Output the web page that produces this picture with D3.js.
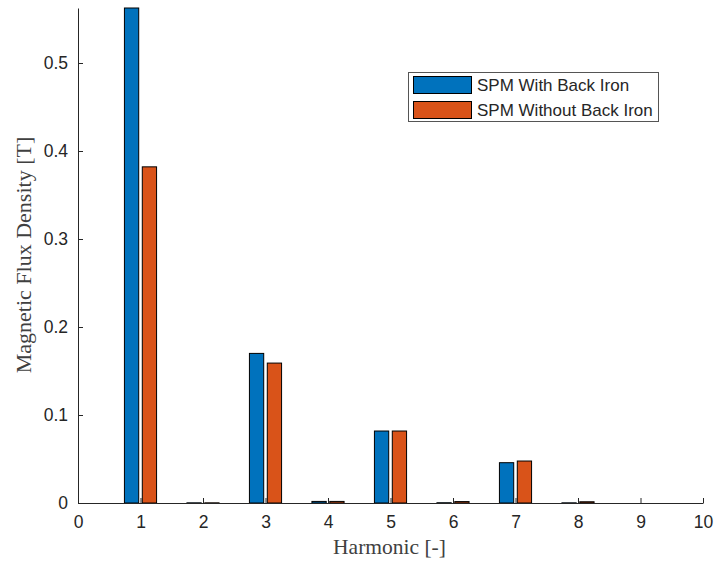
<!DOCTYPE html>
<html>
<head>
<meta charset="utf-8">
<script src="https://cdn.jsdelivr.net/npm/d3@7/dist/d3.min.js"></script>
<style>
  html, body { margin: 0; padding: 0; background: #fff; }
  svg { display: block; }
</style>
</head>
<body>
<svg id="chart" width="714" height="565"></svg>
<script>
// Harmonic spectrum of the air-gap flux density for two SPM designs
const harmonics = [1, 2, 3, 4, 5, 6, 7, 8];
const seriesNames = ["SPM With Back Iron", "SPM Without Back Iron"];
const withBackIron    = [0.5625, 0.0002, 0.170, 0.0018, 0.0818, 0.0003, 0.0458, 0.0002];
const withoutBackIron = [0.382,  0.0002, 0.159, 0.0018, 0.0818, 0.0016, 0.0477, 0.0014];
const seriesColors = ["#0072BD", "#D95319"];
const xTicks = [0, 1, 2, 3, 4, 5, 6, 7, 8, 9, 10];
const yTicks = [0, 0.1, 0.2, 0.3, 0.4, 0.5];

const svg = d3.select("#chart");
const plotLeft = 78, plotRight = 703, plotTop = 8, plotBottom = 503;
const axisColor = "#262626";
const labelColor = "#404040";

const x = d3.scaleLinear().domain([0, 10]).range([plotLeft, plotRight]);
const y = d3.scaleLinear().domain([0, 0.5625]).range([plotBottom, plotTop]);

// grouped bar geometry (two series per harmonic)
const groupWidth = Math.min(0.8, 2 / (2 + 1.5));
const slot = groupWidth / 2;
const barW = slot * 0.8;
const offsets = [-slot / 2, slot / 2];

const series = [withBackIron, withoutBackIron];
series.forEach((vals, s) => {
  svg.append("g").selectAll("rect")
    .data(harmonics.map((h, i) => ({ h, v: vals[i] })))
    .join("rect")
    .attr("x", d => x(d.h + offsets[s] - barW / 2))
    .attr("width", d => x(d.h + offsets[s] + barW / 2) - x(d.h + offsets[s] - barW / 2))
    .attr("y", d => y(d.v))
    .attr("height", d => Math.max(0, y(0) - y(d.v)))
    .attr("fill", seriesColors[s])
    .attr("stroke", "#000")
    .attr("stroke-width", 1);
});

// axes with inward ticks
const xAxis = svg.append("g")
  .attr("transform", `translate(0,${plotBottom})`)
  .call(d3.axisBottom(x).tickValues(xTicks).tickSize(-5).tickPadding(13)
    .tickFormat(d3.format("d")).tickSizeOuter(0));
const yAxis = svg.append("g")
  .attr("transform", `translate(${plotLeft},0)`)
  .call(d3.axisLeft(y).tickValues(yTicks).tickSize(-5).tickPadding(10)
    .tickFormat(d => d === 0 ? "0" : d3.format(".1f")(d)).tickSizeOuter(0));

[xAxis, yAxis].forEach(g => {
  g.select(".domain").attr("stroke", axisColor).attr("stroke-width", 1);
  g.selectAll(".tick line").attr("stroke", axisColor);
  g.selectAll(".tick text")
    .attr("fill", axisColor)
    .style("font-family", "'Liberation Sans', Arial, sans-serif")
    .style("font-size", "17.5px");
});
xAxis.selectAll(".tick text").attr("dy", "0.71em");

// axis labels
svg.append("text")
  .attr("x", (plotLeft + plotRight) / 2 - 1)
  .attr("y", 554)
  .attr("text-anchor", "middle")
  .attr("fill", labelColor)
  .style("font-family", "'Liberation Serif', 'DejaVu Serif', serif")
  .style("font-size", "21.5px")
  .text("Harmonic [-]");

svg.append("text")
  .attr("transform", `translate(31,255) rotate(-90)`)
  .attr("text-anchor", "middle")
  .attr("fill", labelColor)
  .style("font-family", "'Liberation Serif', 'DejaVu Serif', serif")
  .style("font-size", "22px")
  .text("Magnetic Flux Density [T]");

// legend
const legend = svg.append("g");
legend.append("rect")
  .attr("x", 408.5).attr("y", 72.5).attr("width", 250).attr("height", 49)
  .attr("fill", "#fff").attr("stroke", "#555").attr("stroke-width", 1);
seriesNames.forEach((name, i) => {
  const ry = 76.5 + i * 25;
  legend.append("rect")
    .attr("x", 413.5).attr("y", ry).attr("width", 58).attr("height", 17)
    .attr("fill", seriesColors[i]).attr("stroke", "#000").attr("stroke-width", 1);
  legend.append("text")
    .attr("x", 477).attr("y", ry + 8.5).attr("dy", "0.35em")
    .attr("fill", axisColor)
    .style("font-family", "'Liberation Sans', Arial, sans-serif")
    .style("font-size", "17px")
    .text(name);
});
</script>
</body>
</html>
